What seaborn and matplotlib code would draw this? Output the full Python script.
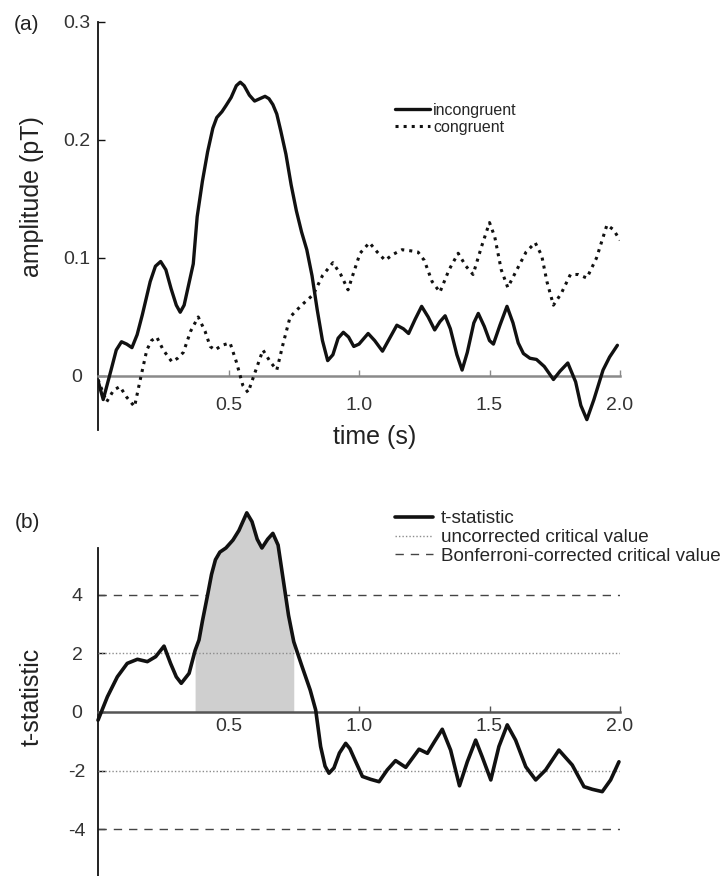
import numpy as np
import pandas as pd
import matplotlib
matplotlib.use("Agg")
import matplotlib.pyplot as plt
import seaborn as sns

# ---------------- data ----------------
inc_t = [0.00, 0.02, 0.05, 0.07, 0.09, 0.11, 0.13, 0.15, 0.17, 0.20, 0.22, 0.24, 0.26, 0.28, 0.30,
         0.315, 0.33, 0.35, 0.365, 0.38, 0.40, 0.42, 0.44, 0.455, 0.475, 0.49, 0.51, 0.53, 0.545,
         0.56, 0.58, 0.60, 0.62, 0.64, 0.655, 0.67, 0.685, 0.70, 0.72, 0.74, 0.76, 0.78, 0.80, 0.82,
         0.84, 0.86, 0.88, 0.90, 0.92, 0.94, 0.96, 0.98, 1.00, 1.035, 1.06, 1.09, 1.12, 1.145, 1.17,
         1.19, 1.215, 1.24, 1.265, 1.29, 1.31, 1.33, 1.35, 1.375, 1.395, 1.415, 1.44, 1.457, 1.48,
         1.50, 1.515, 1.54, 1.567, 1.59, 1.61, 1.63, 1.655, 1.68, 1.71, 1.745, 1.77, 1.80, 1.83,
         1.85, 1.873, 1.90, 1.935, 1.96, 1.99]
inc_v = [-0.004, -0.020, 0.005, 0.022, 0.029, 0.027, 0.024, 0.035, 0.052, 0.080, 0.093, 0.097, 0.090,
         0.074, 0.060, 0.054, 0.060, 0.080, 0.095, 0.135, 0.165, 0.190, 0.210, 0.219, 0.224, 0.229,
         0.236, 0.246, 0.249, 0.246, 0.238, 0.233, 0.235, 0.237, 0.235, 0.230, 0.222, 0.208, 0.188,
         0.162, 0.140, 0.122, 0.107, 0.085, 0.056, 0.030, 0.013, 0.018, 0.032, 0.037, 0.033, 0.025,
         0.027, 0.036, 0.030, 0.021, 0.033, 0.043, 0.040, 0.036, 0.048, 0.059, 0.050, 0.039, 0.046,
         0.051, 0.040, 0.018, 0.005, 0.020, 0.045, 0.053, 0.042, 0.030, 0.027, 0.043, 0.059, 0.045,
         0.028, 0.019, 0.015, 0.014, 0.008, -0.003, 0.004, 0.011, -0.005, -0.025, -0.037, -0.020,
         0.005, 0.016, 0.026]

con_t = [0.00, 0.033, 0.06, 0.084, 0.11, 0.14, 0.16, 0.187, 0.205, 0.225, 0.25, 0.283, 0.305, 0.327,
         0.355, 0.384, 0.41, 0.43, 0.448, 0.475, 0.506, 0.53, 0.555, 0.575, 0.60, 0.632, 0.66, 0.685,
         0.71, 0.736, 0.78, 0.825, 0.86, 0.90, 0.93, 0.958, 0.98, 1.004, 1.04, 1.07, 1.10, 1.13, 1.165,
         1.20, 1.226, 1.25, 1.28, 1.31, 1.345, 1.38, 1.41, 1.437, 1.47, 1.50, 1.52, 1.545, 1.57, 1.60,
         1.64, 1.675, 1.70, 1.72, 1.745, 1.775, 1.81, 1.84, 1.873, 1.91, 1.95, 1.975, 2.00]
con_v = [-0.003, -0.022, -0.012, -0.009, -0.018, -0.026, -0.005, 0.022, 0.030, 0.033, 0.022, 0.012,
         0.015, 0.020, 0.038, 0.050, 0.038, 0.025, 0.022, 0.026, 0.028, 0.012, -0.008, -0.014, 0.002,
         0.022, 0.012, 0.005, 0.028, 0.050, 0.060, 0.069, 0.085, 0.096, 0.086, 0.073, 0.088, 0.104,
         0.113, 0.105, 0.098, 0.103, 0.107, 0.106, 0.105, 0.098, 0.080, 0.071, 0.090, 0.104, 0.093,
         0.086, 0.110, 0.130, 0.118, 0.090, 0.075, 0.088, 0.105, 0.113, 0.102, 0.080, 0.060, 0.070,
         0.086, 0.086, 0.083, 0.100, 0.128, 0.124, 0.115]

ts_t = [0.000, 0.036, 0.074, 0.112, 0.151, 0.189, 0.221, 0.253, 0.278, 0.300, 0.319, 0.349, 0.372,
        0.387, 0.40, 0.42, 0.435, 0.45, 0.467, 0.49, 0.517, 0.54, 0.57, 0.59, 0.61, 0.628, 0.65,
        0.67, 0.69, 0.71, 0.73, 0.75, 0.78, 0.813, 0.834, 0.853, 0.870, 0.885, 0.904, 0.925, 0.949,
        0.965, 0.981, 1.013, 1.045, 1.077, 1.108, 1.14, 1.179, 1.23, 1.262, 1.29, 1.319, 1.351,
        1.385, 1.415, 1.447, 1.472, 1.505, 1.536, 1.568, 1.60, 1.639, 1.677, 1.715, 1.766, 1.817,
        1.862, 1.894, 1.932, 1.964, 1.996]
ts_v = [-0.28, 0.52, 1.20, 1.66, 1.80, 1.72, 1.89, 2.25, 1.66, 1.20, 0.98, 1.32, 2.10,
        2.46, 3.1, 4.0, 4.7, 5.2, 5.46, 5.6, 5.87, 6.2, 6.8, 6.5, 5.9, 5.6, 5.9,
        6.1, 5.7, 4.5, 3.3, 2.4, 1.6, 0.75, 0.07, -1.18, -1.85, -2.09, -1.91, -1.40, -1.07,
        -1.25, -1.57, -2.20, -2.30, -2.38, -1.98, -1.66, -1.89, -1.27, -1.41, -1.00, -0.59, -1.30,
        -2.52, -1.70, -0.96, -1.53, -2.32, -1.18, -0.44, -0.96, -1.87, -2.32, -1.98, -1.30, -1.81,
        -2.55, -2.64, -2.72, -2.32, -1.70]

sig_window = [0.372, 0.75]         # shaded significant interval (s)
crit_uncorrected = 2.0
crit_bonferroni = 4.0

top_xticks = [0.5, 1.0, 1.5, 2.0]
top_xticklabels = ["0.5", "1.0", "1.5", "2.0"]
top_yticks = [0, 0.1, 0.2, 0.3]
top_yticklabels = ["0", "0.1", "0.2", "0.3"]
bot_yticks = [-4, -2, 0, 2, 4]
bot_yticklabels = ["-4", "-2", "0", "2", "4"]

# ---------------- style ----------------
sns.set_theme(style="white")
plt.rcParams["font.family"] = ["Liberation Sans", "DejaVu Sans"]

W, H = 722, 876
fig = plt.figure(figsize=(W / 100, H / 100), dpi=100)


def axrect(x0, y0, x1, y1):
    return [x0 / W, 1 - y1 / H, (x1 - x0) / W, (y1 - y0) / H]


def style_axis(ax, zero_color, xpad):
    for s in ("top", "right"):
        ax.spines[s].set_visible(False)
    ax.spines["left"].set_color("#111111")
    ax.spines["left"].set_linewidth(1.3)
    ax.spines["bottom"].set_position(("data", 0))
    ax.spines["bottom"].set_color(zero_color)
    ax.spines["bottom"].set_linewidth(1.8)
    ax.tick_params(axis="x", direction="in", length=4, width=1, color=zero_color,
                   labelsize=14, labelcolor="#333333", pad=xpad, bottom=True)
    ax.tick_params(axis="y", direction="in", length=5, width=1, color="#111111",
                   labelsize=14, labelcolor="#333333", pad=15, left=True)
    for lbl in ax.get_yticklabels():
        lbl.set_ha("center")
    ax.grid(False)


# ---------------- panel (a) ----------------
ax1 = fig.add_axes(axrect(98, 22, 620, 430))
df_inc = pd.DataFrame({"time": inc_t, "amp": inc_v})
df_con = pd.DataFrame({"time": con_t, "amp": con_v})
sns.lineplot(data=df_inc, x="time", y="amp", ax=ax1, color="#111111", linewidth=2.4,
             label="incongruent", legend=False, zorder=3)
sns.lineplot(data=df_con, x="time", y="amp", ax=ax1, color="#111111", linewidth=2.2,
             linestyle=":", label="congruent", legend=False, zorder=3)
ax1.set_xlim(0, 2.0)
ax1.set_ylim(-0.0458, 0.3)
ax1.set_xticks(top_xticks, top_xticklabels)
ax1.set_yticks(top_yticks, top_yticklabels)
style_axis(ax1, "#8a8a8a", 15)
ax1.set_xlabel("time (s)", fontsize=18, color="#222222")
ax1.xaxis.set_label_coords((375 - 98) / 522, (430 - 437) / 408)
ax1.xaxis.label.set_va("center")
ax1.set_ylabel("amplitude (pT)", fontsize=18, color="#222222")
ax1.yaxis.set_label_coords((32 - 98) / 522, (430 - 197) / 408)
ax1.yaxis.label.set_va("center")
ax1.legend(loc="upper left", bbox_to_anchor=(395 / W, 1 - 103 / H),
           bbox_transform=fig.transFigure, frameon=False, fontsize=11.5,
           handlelength=2.2, handletextpad=0.2, labelspacing=0.1,
           borderpad=0, borderaxespad=0)
fig.text(27 / W, 1 - 24 / H, "(a)", fontsize=15, ha="center", va="center", color="#222222")

# ---------------- panel (b) ----------------
ax2 = fig.add_axes(axrect(98, 548, 620, 876))
df_ts = pd.DataFrame({"time": ts_t, "t": ts_v})
sns.lineplot(data=df_ts, x="time", y="t", ax=ax2, color="#111111", linewidth=2.6,
             label="t-statistic", legend=False, zorder=4, clip_on=False)
for sgn in (1, -1):
    ax2.axhline(sgn * crit_uncorrected, color="#8c8c8c", linewidth=1.0, linestyle=(0, (1, 1.5)),
                zorder=3, label="uncorrected critical value" if sgn == 1 else None)
for sgn in (1, -1):
    ax2.axhline(sgn * crit_bonferroni, color="#444444", linewidth=1.0, linestyle=(0, (6, 5)),
                zorder=1, label="Bonferroni-corrected critical value" if sgn == 1 else None)
tt = np.array(ts_t)
vv = np.array(ts_v)
mask = (tt >= sig_window[0]) & (tt <= sig_window[1])
ax2.fill_between(tt[mask], 0, vv[mask], color="#cfcfcf", linewidth=0, zorder=2, clip_on=False)
ax2.set_xlim(0, 2.0)
ax2.set_ylim(-5.6, 5.6)
ax2.set_xticks(top_xticks, top_xticklabels)
ax2.set_yticks(bot_yticks, bot_yticklabels)
style_axis(ax2, "#555555", 4)
ax2.set_xlabel("")
ax2.set_ylabel("t-statistic", fontsize=18, color="#222222")
ax2.yaxis.set_label_coords((32 - 98) / 522, (876 - 697) / 328)
ax2.yaxis.label.set_va("center")
ax2.legend(loc="upper left", bbox_to_anchor=(395 / W, 1 - 510 / H),
           bbox_transform=fig.transFigure, frameon=False, fontsize=13.6,
           handlelength=2.0, handletextpad=0.42, labelspacing=0.09,
           borderpad=0, borderaxespad=0)
fig.text(27 / W, 1 - 523 / H, "(b)", fontsize=15, ha="center", va="center", color="#222222")

fig.savefig("out.png", dpi=100)
